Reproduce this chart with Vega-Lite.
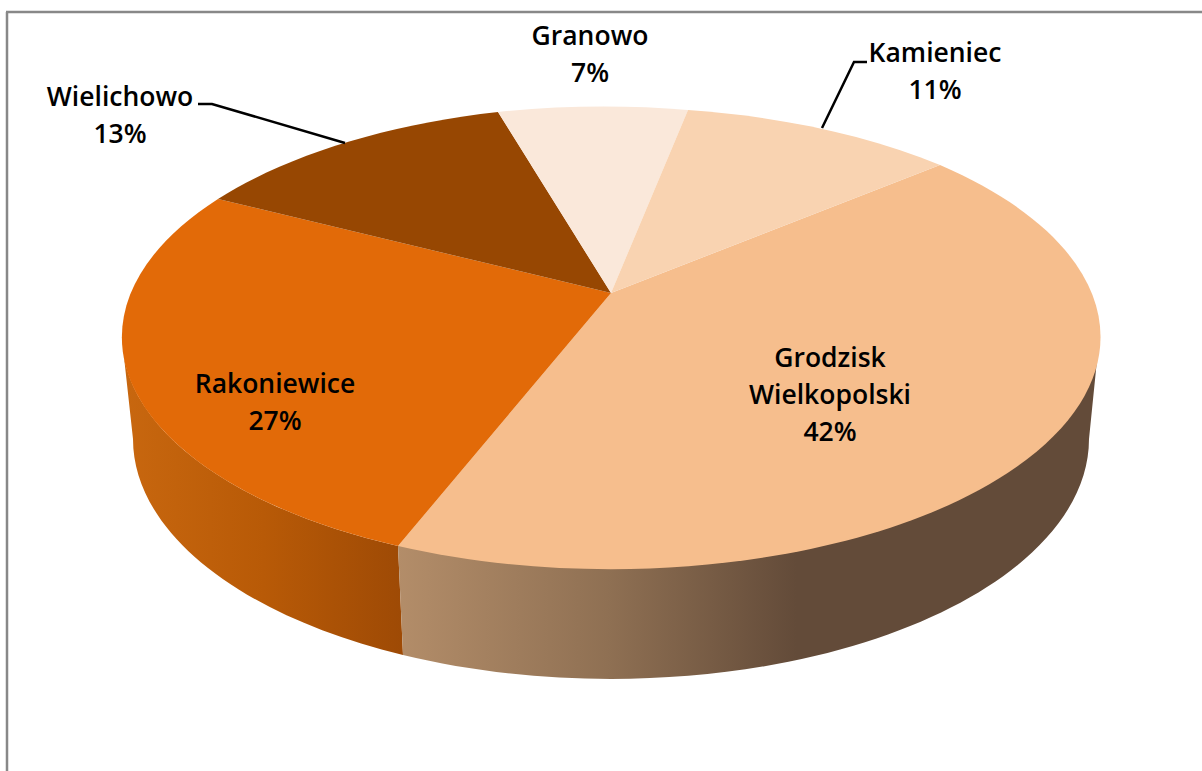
{
"$schema":"https://vega.github.io/schema/vega-lite/v6.json",
"width":1202,"height":771,"padding":0,"autosize":{"type":"none"},
"background":"#ffffff",
"config":{"view":{"stroke":null}},
"data":{"values":[
{"name":"Grodzisk Wielkopolski","share":42,"label":"Grodzisk|Wielkopolski|42%"},
{"name":"Rakoniewice","share":27,"label":"Rakoniewice|27%"},
{"name":"Wielichowo","share":13,"label":"Wielichowo|13%"},
{"name":"Granowo","share":7,"label":"Granowo|7%"},
{"name":"Kamieniec","share":11,"label":"Kamieniec|11%"}
]},
"resolve":{"scale":{"x":"independent","y":"independent"}},
"layer":[
{"layer":[
{"data":{"values":[{}]},"mark":{"type":"rule","color":"#888888","strokeWidth":2.5},
 "encoding":{"x":{"datum":7,"type":"quantitative"},"y":{"datum":12,"type":"quantitative"},"y2":{"datum":771}}},
{"data":{"values":[{}]},"mark":{"type":"rule","color":"#888888","strokeWidth":2.5},
 "encoding":{"x":{"datum":6,"type":"quantitative"},"x2":{"datum":1202},"y":{"datum":12,"type":"quantitative"}}},
{"transform":[{"filter":"datum.share==27"}],
 "mark":{"type":"point","filled":true,"opacity":1,"size":4,"strokeWidth":0,
  "shape":"M-487,20 L-478,102 A478,240 0 0 0 -208,318 L-213,209 A489,232 0 0 1 -487,20 Z",
  "fill":{"gradient":"linear","x1":0,"y1":0,"x2":1,"y2":0,"stops":[{"offset":0,"color":"#c8670f"},{"offset":0.5,"color":"#b85a07"},{"offset":1,"color":"#9e4a05"}]}},
 "encoding":{"x":{"datum":611,"type":"quantitative"},"y":{"datum":337,"type":"quantitative"}}},
{"transform":[{"filter":"datum.share==42"}],
 "mark":{"type":"point","filled":true,"opacity":1,"size":4,"strokeWidth":0,
  "shape":"M486,23 L478,102 A478,240 0 0 1 -208,318 L-213,209 L0,100 Z",
  "fill":{"gradient":"linear","x1":0,"y1":0,"x2":1,"y2":0,"stops":[{"offset":0,"color":"#b38d69"},{"offset":0.3,"color":"#8f7053"},{"offset":0.57,"color":"#634b39"},{"offset":1,"color":"#634b39"}]}},
 "encoding":{"x":{"datum":611,"type":"quantitative"},"y":{"datum":337,"type":"quantitative"}}},
{"mark":{"type":"point","filled":true,"opacity":1,"size":4,"strokeWidth":0},
 "encoding":{
  "x":{"datum":611,"type":"quantitative"},"y":{"datum":337,"type":"quantitative"},
  "shape":{"field":"name","type":"nominal","legend":null,"scale":{"domain":["Grodzisk Wielkopolski","Rakoniewice","Wielichowo","Granowo","Kamieniec"],"range":[
   "M0,-44 L329,-172 A489.5,232.2 0 0 1 -213,209 Z",
   "M0,-44 L-213,209 A489,232 0 0 1 -393,-138 Z",
   "M0,-44 L-393,-138 A489,232 0 0 1 -113,-225 Z",
   "M0,-44 L-113,-225 A489,232 0 0 1 77,-227 Z",
   "M0,-44 L77,-227 A489,232 0 0 1 329,-172 Z"]}},
  "color":{"field":"name","type":"nominal","legend":null,"scale":{"domain":["Grodzisk Wielkopolski","Rakoniewice","Wielichowo","Granowo","Kamieniec"],"range":["#f6be8d","#e26a08","#974702","#fae8da","#f9d3b1"]}}
 }},
{"transform":[{"filter":"datum.share==11||datum.share==13"}],
 "mark":{"type":"point","filled":false,"opacity":1,"size":4,"stroke":"#000000","strokeWidth":2.5,"fill":null},
 "encoding":{
  "x":{"datum":611,"type":"quantitative"},"y":{"datum":337,"type":"quantitative"},
  "shape":{"field":"name","type":"nominal","legend":null,"scale":{"domain":["Wielichowo","Kamieniec"],"range":[
   "M-413,-233 L-399,-233 L-266,-194",
   "M256,-275 L243,-275 L211,-209"]}}
 }}
],
"encoding":{
 "x":{"axis":null,"scale":{"domain":[0,1202],"range":[0,1202],"zero":false,"nice":false}},
 "y":{"axis":null,"scale":{"domain":[0,771],"range":[0,771],"zero":false,"nice":false}}
},
"resolve":{"scale":{"shape":"independent","x":"shared","y":"shared"}}
},
{"mark":{"type":"text","font":"Open Sans","fontWeight":600,"fontSize":26.5,"color":"#000000","align":"center","baseline":"middle","lineBreak":"|","lineHeight":37},
 "encoding":{
  "x":{"field":"share","type":"quantitative","axis":null,"scale":{"domain":[7,11,13,27,42],"range":[590,935,120,275,830],"zero":false,"nice":false}},
  "y":{"field":"share","type":"quantitative","axis":null,"scale":{"domain":[7,11,13,27,42],"range":[37,54,98,385,359],"zero":false,"nice":false}},
  "text":{"field":"label","type":"nominal"}
 }}
]
}
